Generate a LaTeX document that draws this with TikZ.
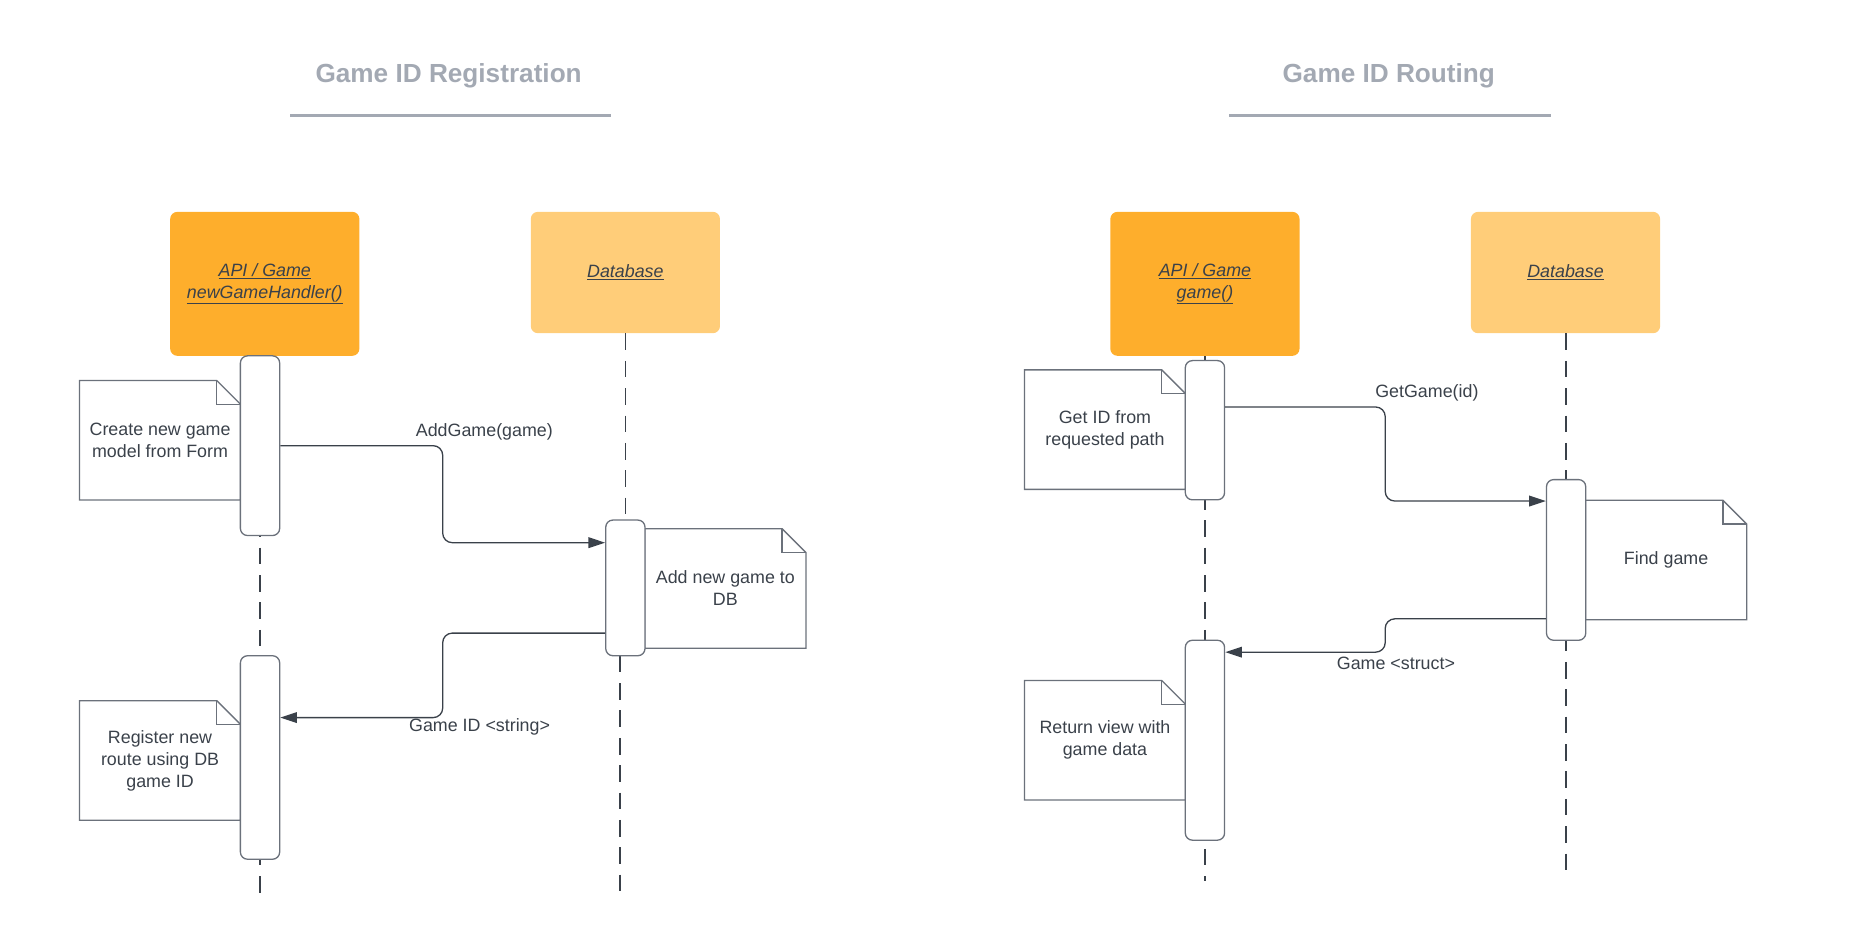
\documentclass[tikz,border=0pt]{standalone}
\usepackage{fontspec}
\setmainfont{Liberation Sans}
\usetikzlibrary{arrows.meta}
\definecolor{apiorange}{HTML}{FEAE2C}
\definecolor{dborange}{HTML}{FFCD79}
\definecolor{titlegray}{HTML}{A3A9B3}
\definecolor{ink}{HTML}{3A414A}
\definecolor{edgegray}{HTML}{6B717B}

\begin{document}
\begin{tikzpicture}[x=1pt, y=-1pt,
                >={Triangle[length=14pt,width=9pt]},
                font=\fontsize{15}{18.5}\selectfont,
                text=ink,
                headline/.style={font=\bfseries\fontsize{22}{26}\selectfont, text=titlegray},
                rule/.style={draw=titlegray, line width=2pt},
                actor/.style={rectangle, rounded corners=6pt, minimum width=159pt, inner sep=0pt, align=center},
                api/.style={actor, fill=apiorange, minimum height=121pt},
                db/.style={actor, fill=dborange, minimum height=102pt},
                bar/.style={rectangle, rounded corners=6pt, draw=edgegray, line width=1.1pt, fill=white, minimum width=33pt, inner sep=0pt},
                note/.style={rectangle, minimum width=135pt, minimum height=100pt, align=center, inner sep=0pt},
                noteline/.style={draw=edgegray, line width=1.1pt, line join=miter},
                lifeline/.style={draw=ink, line width=1.2pt, dash pattern=on 14pt off 9pt},
                msg/.style={->, draw=ink, line width=1.1pt, rounded corners=8pt},
                msglabel/.style={inner sep=1pt}
                ]
    \useasboundingbox (0,0) rectangle (1568,796);

    % Titles
    \node[headline] (reg) at (377,64) {Game ID Registration};
    \node[headline] (rout) at (1167,64) {Game ID Routing};
    \draw[rule] (244,97) -- (513,97);
    \draw[rule] (1033,97) -- (1303,97);

    % Participants
    \node[api] (api1) at (222.5,238.5) {\underline{\textit{API / Game}}\\\underline{\textit{newGameHandler()}}};
    \node[db] (db1) at (525.5,229) {\underline{\textit{Database}}};
    \node[api] (api2) at (1012.5,238.5) {\underline{\textit{API / Game}}\\\underline{\textit{game()}}};
    \node[db] (db2) at (1315.5,229) {\underline{\textit{Database}}};

    % Lifelines
    \coordinate (end1) at (218.5,757);
    \coordinate (end2top) at (525.5,437);
    \coordinate (end2) at (521,757);
    \coordinate (end3) at (1012.5,740);
    \coordinate (end4) at (1316,740);
    \draw[lifeline] (api1.south -| end1) -- (end1);
    \draw[lifeline] (db1.south -| end2top) -- (end2top);
    \draw[lifeline] (end2 |- 0,551) -- (end2);
    \draw[lifeline] (api2.south -| end3) -- (end3);
    \draw[lifeline] (db2.south -| end4) -- (end4);

    % Notes
    \node[note] (note1) at (134.5,370) {Create new game\\model from Form};
    \node[note] (note2) at (609.5,494.5) {Add new game to\\DB};
    \node[note] (note3) at (134.5,639) {Register new\\route using DB\\game ID};
    \node[note] (note4) at (928.5,361) {Get ID from\\requested path};
    \node[note] (note5) at (1400,470.5) {Find game};
    \node[note] (note6) at (928.5,622) {Return view with\\game data};
    \foreach \n in {note1,note2,note3,note4,note5,note6}{
        \draw[noteline] (\n.north west) -- ([xshift=-20pt]\n.north east) -- ([yshift=-20pt]\n.north east)
                        -- (\n.south east) -- (\n.south west) -- cycle;
        \draw[noteline] ([xshift=-20pt]\n.north east) |- ([yshift=-20pt]\n.north east);
    }

    % Activations
    \node[bar, minimum height=151pt] (act1a) at (218.5,374.5) {};
    \node[bar, minimum height=171pt] (act1b) at (218.5,636.5) {};
    \node[bar, minimum height=114pt] (actdb1) at (525.5,494) {};
    \node[bar, minimum height=117pt] (act2a) at (1012.5,361.5) {};
    \node[bar, minimum height=168pt] (act2b) at (1012.5,622) {};
    \node[bar, minimum height=135pt] (actdb2) at (1316,470.5) {};

    % Messages
    \draw[msg] (act1a.east) -- (372,374.5) -- (372,456) -- (actdb1.west |- 0,456);
    \draw[msg] (actdb1.west |- 0,532) -- (372,532) -- (372,603) -- (act1b.east |- 0,603);
    \draw[msg] (act2a.east |- 0,342) -- (1164,342) -- (1164,421) -- (actdb2.west |- 0,421);
    \draw[msg] (actdb2.west |- 0,520) -- (1164,520) -- (1164,548) -- (act2b.east |- 0,548);

    \node[msglabel] (addgame) at (407,363) {AddGame(game)};
    \node[msglabel] (gameid) at (403,611) {Game ID <string>};
    \node[msglabel] (getgame) at (1199,330) {GetGame(id)};
    \node[msglabel] (gamestruct) at (1173,557) {Game <struct>};
\end{tikzpicture}
\end{document}
